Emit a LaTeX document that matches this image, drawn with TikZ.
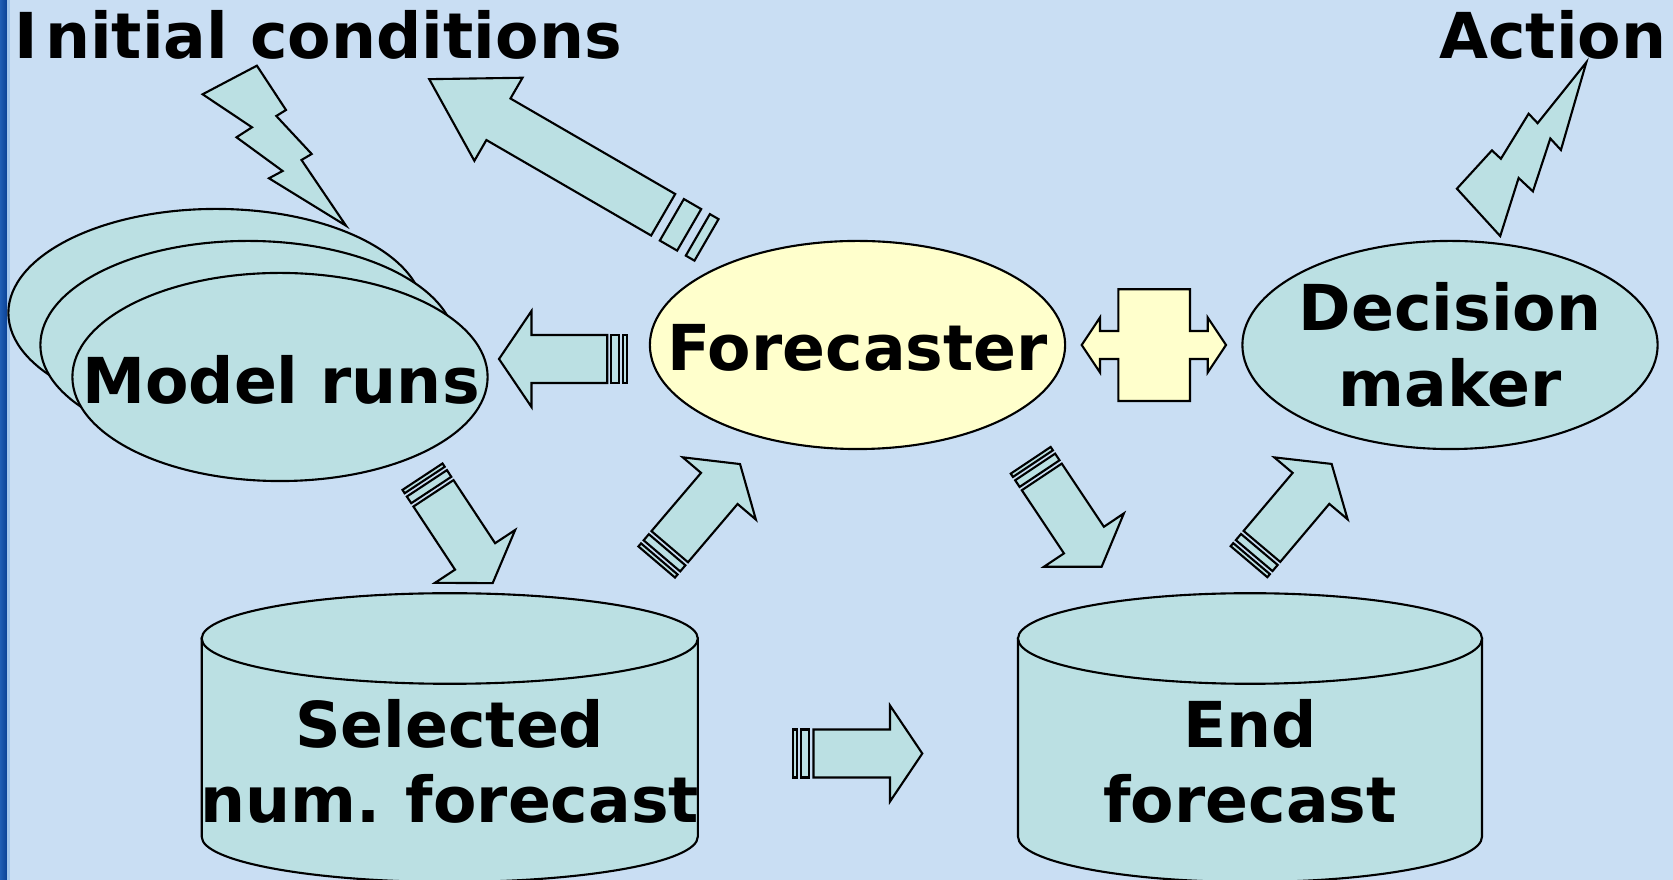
\documentclass[tikz,border=0pt]{standalone}
\usepackage{fontspec}
\setmainfont{DejaVu Sans}
\usetikzlibrary{shapes.geometric}

\definecolor{bgblue}{HTML}{C9DEF3}
\definecolor{aquafill}{HTML}{BBE0E3}
\definecolor{creamfill}{HTML}{FFFFCC}
\definecolor{edgeA}{HTML}{1F5DB4}
\definecolor{edgeB}{HTML}{0A4196}
\definecolor{edgeC}{HTML}{A3C6EC}

\tikzset{
  outline/.style={draw=black, line width=0.6pt, line join=miter},
  aqua/.style={outline, fill=aquafill},
  cream/.style={outline, fill=creamfill},
  bubble/.style={ellipse, aqua, minimum width=4.15cm, minimum height=2.08cm, inner sep=0pt},
  txt/.style={font=\fontsize{18}{21.4}\selectfont\bfseries, align=center, inner sep=0pt, text=black},
  % striped block arrow: #1 total length, #2 head length (local x points to the tip)
  pics/sarrow/.style 2 args={code={
    \path[aqua] (0,-24) rectangle ({#1/32},24);
    \path[aqua] ({#1/16},-24) rectangle ({#1/8},24);
    \path[aqua] ({5*#1/32},-24) -- ({#1-#2},-24) -- ({#1-#2},-48) -- (#1,0)
      -- ({#1-#2},48) -- ({#1-#2},24) -- ({5*#1/32},24) -- cycle;
  }}
}

\begin{document}
\begin{tikzpicture}[x=0.01cm, y=-0.01cm]
  % canvas
  \fill[bgblue] (0,0) rectangle (1673,880);
  \useasboundingbox (0,0) rectangle (1673,880);
  \clip (0,0) rectangle (1673,880);
  \shade[left color=edgeA, right color=edgeB] (0,0) rectangle (7,880);
  \fill[edgeC] (7,0) rectangle (10,880);

  % headings
  \node[txt, anchor=base west] (ic) at (14,59) {I\kern0.07cm nitial conditions};
  \node[txt, anchor=base east] (act) at (1667,59) {Action};

  % stacked model runs
  \node[bubble] (mrA) at (216,313) {};
  \node[bubble] (mrB) at (248,345) {};
  \node[bubble] (mrC) at (280,377) {};
  \node[txt] (mr) at (281,380) {Model runs};

  % forecaster and decision maker
  \node[bubble, fill=creamfill] (fcb) at (857.5,345) {};
  \node[txt] (fc) at (857.5,348) {Forecaster};
  \node[bubble] (dmb) at (1450,345) {};
  \node[txt] (dm) at (dmb) {Decision\\maker};

  % data stores
  \path[aqua] (201.7,638.5) -- (201.7,836.7)
    arc[start angle=180, end angle=0, x radius=248.05, y radius=45.3]
    -- (697.8,638.5) -- cycle;
  \path[aqua] (449.75,638.5) ellipse[x radius=248.05, y radius=45.3];
  \node[txt] (sel) at (449.75,761.4) {Selected\\num.\kern-0.04cm{} forecast};

  \path[aqua] (1018,638.5) -- (1018,836.7)
    arc[start angle=180, end angle=0, x radius=232, y radius=45.3]
    -- (1482,638.5) -- cycle;
  \path[aqua] (1250,638.5) ellipse[x radius=232, y radius=45.3];
  \node[txt] (endf) at (1250,761.4) {End\\forecast};

  % lightning bolts
  \path[aqua] (202.6,94.3) -- (256.9,65.7) -- (286,110) -- (276.3,116)
    -- (311.7,154) -- (301.5,160) -- (346,225.7) -- (269,178.3)
    -- (282.6,171) -- (236.5,137.3) -- (252,127.3) -- cycle;
  \path[aqua] (1456.9,188.7) -- (1491.9,150.4) -- (1500.9,158.8)
    -- (1528.6,113.7) -- (1537.6,123.2) -- (1586.3,62.4) -- (1560.9,150)
    -- (1550.3,138.5) -- (1532.9,191.4) -- (1518.6,178) -- (1500.2,236.1) -- cycle;

  % two-way exchange between forecaster and decision maker
  \coordinate (link) at (1154.2,345);
  \path[cream] (1118.3,289.3) -- (1190,289.3) -- (1190,331) -- (1207.7,331)
    -- (1207.7,317.5) -- (1226,345) -- (1207.7,372.5) -- (1207.7,359)
    -- (1190,359) -- (1190,401) -- (1118.3,401) -- (1118.3,359)
    -- (1100,359) -- (1100,372.5) -- (1081.7,345) -- (1100,317.5)
    -- (1100,331) -- (1118.3,331) -- cycle;

  % flow arrows
  \pic[rotate=149.9] (toIC) at (706.5,239.9) {sarrow={320.5}{80}};
  \pic[rotate=180] (toMR) at (627.3,359) {sarrow={128.3}{32.5}};
  \pic[rotate=-56.6] (toSel) at (422.5,476.7) {sarrow={127.5}{32}};
  \pic[rotate=49.6] (toFc) at (656.7,562) {sarrow={128.6}{32}};
  \pic[rotate=-56.3] (toEnd) at (1030.7,460.3) {sarrow={127.9}{32}};
  \pic[rotate=49.8] (toDm) at (1249,561.7) {sarrow={128}{32}};
  \pic (selEnd) at (793.3,753.5) {sarrow={129}{32.3}};
\end{tikzpicture}
\end{document}
